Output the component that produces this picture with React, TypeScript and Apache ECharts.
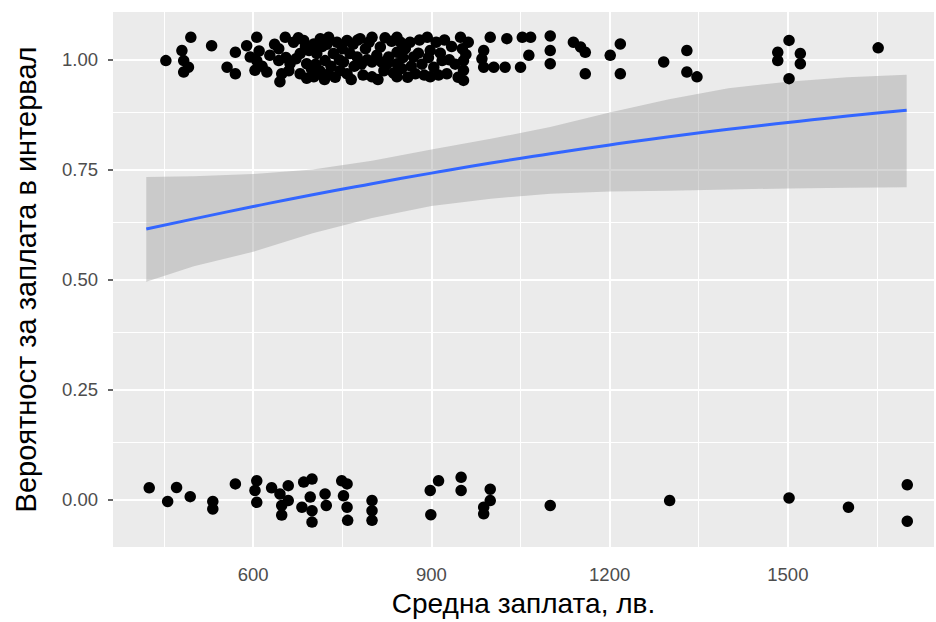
import React, { useEffect, useRef } from "react";
import * as echarts from "echarts";

const xMajorTicks = [600, 900, 1200, 1500];
const xMinorGrid = [450, 750, 1050, 1350, 1650];
const yMajorTicks = [0, 0.25, 0.5, 0.75, 1];
const yMinorGrid = [0.125, 0.375, 0.625, 0.875];

const fitX = [420, 500, 600, 700, 800, 900, 1000, 1100, 1200, 1300, 1400, 1500, 1600, 1700];
const fitY = [0.615, 0.638, 0.666, 0.693, 0.718, 0.742, 0.765, 0.786, 0.806, 0.825, 0.842, 0.857, 0.872, 0.885];
const ciLower = [0.495, 0.53, 0.563, 0.605, 0.64, 0.667, 0.684, 0.695, 0.7, 0.702, 0.705, 0.707, 0.709, 0.71];
const ciUpper = [0.733, 0.735, 0.74, 0.75, 0.77, 0.796, 0.82, 0.847, 0.88, 0.91, 0.935, 0.95, 0.96, 0.966];

const topPoints: [number, number][] = [
  [495, 1.051], [530, 1.032], [480, 1.021], [453, 0.998], [483, 0.998], [491, 0.983], [483, 0.972],
  [570, 1.017], [589, 1.032], [606, 1.051], [556, 0.983], [570, 0.968],
  [595, 1.006], [606, 0.998], [603, 0.976], [623, 0.972],
  [643, 1.025], [654, 1.051], [643, 0.998], [648, 0.968], [645, 0.95],
  [662, 0.991], [685, 1.044], [679, 1.014], [690, 0.991], [679, 0.968], [702, 0.961], [702, 1.036],
  [713, 1.048], [727, 1.051], [707, 1.014], [721, 0.998], [735, 1.014], [707, 0.968], [727, 0.968],
  [758, 1.044], [780, 1.048], [800, 1.051], [763, 1.014], [752, 0.995], [775, 1.006], [789, 1.025],
  [758, 0.968], [800, 0.995], [800, 0.961],
  [814, 1.029], [828, 1.006], [842, 1.051], [842, 1.017], [842, 0.991], [842, 0.961],
  [864, 1.04], [870, 1.006], [873, 0.968],
  [893, 1.051], [898, 1.021], [904, 0.983], [918, 0.998], [898, 0.961],
  [926, 0.968], [949, 1.051], [952, 1.025], [954, 0.998], [954, 0.976], [954, 0.953],
  [668, 1.04], [672, 1.002], [694, 1.021], [698, 0.979], [716, 1.03], [731, 0.985], [741, 1.04],
  [746, 0.975], [768, 1.035], [770, 0.985], [785, 0.965], [792, 1.0], [808, 1.01], [820, 0.975],
  [833, 1.042], [850, 0.98], [856, 1.025], [880, 1.045], [884, 0.99], [908, 1.04], [912, 0.965],
  [934, 1.03], [940, 0.99], [962, 1.04], [690, 0.958], [720, 0.955], [745, 1.0], [810, 0.955],
  [825, 0.99], [860, 0.96], [878, 1.015], [915, 1.015], [610, 1.02], [628, 1.01], [615, 0.985],
  [655, 1.005],
  [636, 1.035], [660, 0.975], [676, 1.05], [688, 1.03], [705, 0.99], [712, 0.975], [724, 1.035],
  [738, 0.96], [750, 1.025], [765, 0.955], [776, 1.045], [782, 0.99], [795, 1.04], [816, 0.995],
  [822, 1.05], [836, 0.97], [848, 1.04], [852, 1.005], [866, 0.985], [888, 0.965], [895, 1.005],
  [922, 1.045], [930, 1.0], [945, 0.96], [958, 1.012],
  [999, 1.051], [988, 1.021], [985, 1.002], [988, 0.983], [1005, 0.983],
  [1027, 1.048], [1024, 0.983],
  [1053, 1.051], [1067, 1.051], [1064, 1.01], [1050, 0.983],
  [1100, 1.054], [1100, 1.021], [1100, 0.991],
  [1139, 1.04], [1151, 1.029], [1159, 1.017], [1159, 0.968],
  [1201, 1.01], [1218, 1.036], [1218, 0.968],
  [1291, 0.995], [1330, 1.021], [1330, 0.972], [1347, 0.961],
  [1502, 1.044], [1483, 1.017], [1483, 0.998], [1521, 1.014], [1521, 0.991], [1502, 0.957],
  [1652, 1.027],
];

const bottomPoints: [number, number][] = [
  [425, 0.026], [456, -0.005], [471, 0.027], [494, 0.006], [532, -0.005], [532, -0.022],
  [570, 0.035], [606, 0.042], [603, 0.02], [606, -0.007], [631, 0.026],
  [645, 0.012], [648, -0.014], [648, -0.036], [659, 0.031], [659, -0.003],
  [685, 0.039], [699, 0.046], [682, -0.018], [696, 0.005], [699, -0.026], [699, -0.052],
  [721, 0.012], [723, -0.014],
  [749, 0.042], [758, 0.035], [752, 0.008], [758, -0.018], [759, -0.048],
  [800, -0.003], [800, -0.026], [800, -0.048],
  [898, 0.02], [912, 0.042], [899, -0.035],
  [950, 0.05], [950, 0.02],
  [999, 0.023], [999, -0.003], [988, -0.018], [988, -0.033],
  [1100, -0.014], [1301, -0.003], [1502, 0.003], [1602, -0.018], [1701, 0.033], [1701, -0.05],
];

const FONT = "Liberation Sans";

export default function App() {
  const ref = useRef<HTMLDivElement>(null);
  useEffect(() => {
    if (!ref.current) return;
    const chart = echarts.init(ref.current, undefined, { renderer: "svg" });
    const gridLines = [
      ...xMajorTicks.map((v) => ({ xAxis: v, lineStyle: { width: 2 } })),
      ...xMinorGrid.map((v) => ({ xAxis: v, lineStyle: { width: 1 } })),
      ...yMajorTicks.map((v) => ({ yAxis: v, lineStyle: { width: 2 } })),
      ...yMinorGrid.map((v) => ({ yAxis: v, lineStyle: { width: 1 } })),
    ];
    const bandData = fitX.map((x, i) => [x, ciLower[i], ciUpper[i]]);
    chart.setOption({
      animation: false,
      backgroundColor: "#ffffff",
      textStyle: { fontFamily: FONT },
      grid: {
        left: 113,
        right: 2,
        top: 12,
        bottom: 72,
        show: true,
        backgroundColor: "#EBEBEB",
        borderWidth: 0,
      },
      xAxis: {
        type: "value",
        min: 364,
        max: 1746,
        name: "Средна заплата, лв.",
        nameLocation: "middle",
        nameGap: 42,
        nameTextStyle: { fontSize: 28, color: "#000000", fontFamily: FONT },
        axisLine: { show: false },
        splitLine: { show: false },
        axisTick: {
          show: true,
          customValues: xMajorTicks,
          length: 5,
          lineStyle: { color: "#333333", width: 1.5 },
        },
        axisLabel: {
          customValues: xMajorTicks,
          color: "#4D4D4D",
          fontSize: 18.5,
          margin: 18,
          fontFamily: FONT,
          formatter: (v: number) => String(v),
        },
      },
      yAxis: {
        type: "value",
        min: -0.1086,
        max: 1.1086,
        name: "Вероятност за заплата в интервал",
        nameLocation: "middle",
        nameGap: 73,
        nameRotate: 90,
        nameTextStyle: { fontSize: 29, color: "#000000", fontFamily: FONT },
        axisLine: { show: false },
        splitLine: { show: false },
        axisTick: {
          show: true,
          customValues: yMajorTicks,
          length: 5,
          lineStyle: { color: "#333333", width: 1.5 },
        },
        axisLabel: {
          customValues: yMajorTicks,
          color: "#4D4D4D",
          fontSize: 18.5,
          margin: 15,
          fontFamily: FONT,
          formatter: (v: number) => v.toFixed(2),
        },
      },
      series: [
        {
          type: "line",
          name: "grid",
          data: [],
          z: 1,
          silent: true,
          markLine: {
            z: 1,
            silent: true,
            symbol: ["none", "none"],
            label: { show: false },
            lineStyle: { color: "#ffffff", type: "solid" },
            data: gridLines,
          },
        },
        {
          type: "custom",
          name: "band",
          data: bandData,
          z: 6,
          silent: true,
          renderItem: (params: any, api: any) => {
            if (params.dataIndex !== 0) return null;
            const upper = bandData.map((d) => api.coord([d[0], d[2]]));
            const lower = bandData.map((d) => api.coord([d[0], d[1]])).reverse();
            return {
              type: "polygon",
              shape: { points: upper.concat(lower) },
              style: { fill: "rgba(153,153,153,0.4)", stroke: "none" },
            };
          },
        },
        {
          type: "line",
          name: "fit",
          data: fitX.map((x, i) => [x, fitY[i]]),
          showSymbol: false,
          symbol: "none",
          smooth: true,
          lineStyle: { color: "#3366FF", width: 3 },
          z: 8,
          silent: true,
        },
        {
          type: "scatter",
          name: "top",
          data: topPoints,
          symbolSize: 11.5,
          itemStyle: { color: "#000000", opacity: 1 },
          z: 10,
        },
        {
          type: "scatter",
          name: "bottom",
          data: bottomPoints,
          symbolSize: 11.5,
          itemStyle: { color: "#000000", opacity: 1 },
          z: 10,
        },
      ],
    });
    return () => chart.dispose();
  }, []);
  return (
    <div
      ref={ref}
      style={{ position: "absolute", left: 0, top: 0, width: 936, height: 622 }}
    />
  );
}
